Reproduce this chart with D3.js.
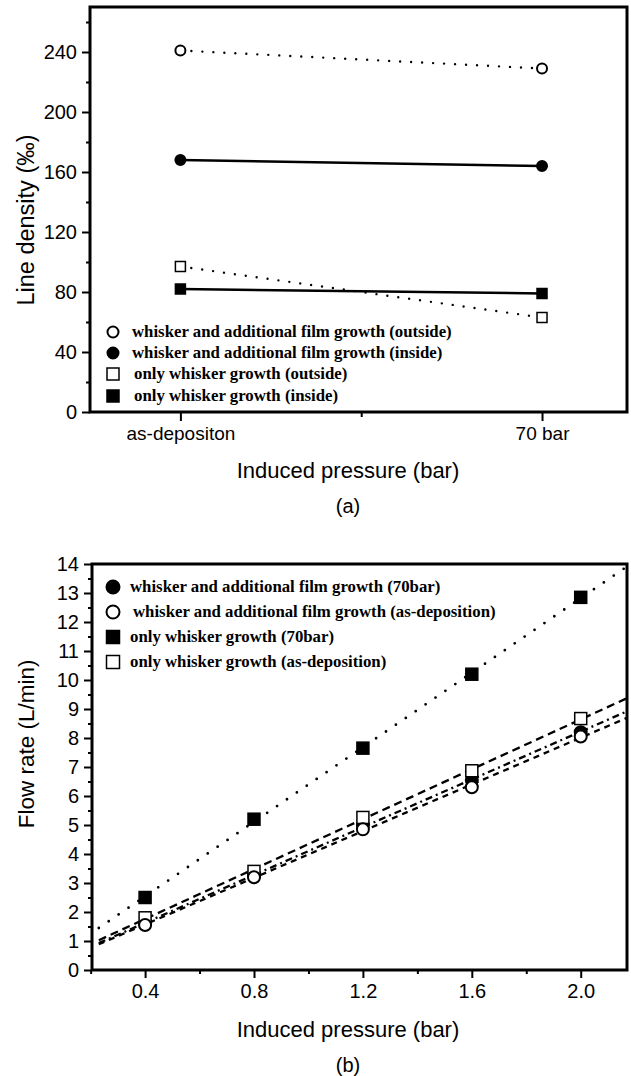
<!DOCTYPE html>
<html>
<head>
<meta charset="utf-8">
<script src="https://cdn.jsdelivr.net/npm/d3@7"></script>
<style>
  body { margin: 0; background: #fff; }
  .tick text { font-family: "Liberation Sans", Arial, sans-serif; }
</style>
</head>
<body>
<script>
// ---- panel (a) data ----
var catsA = ["as-depositon", "70 bar"];
var outsideCircle = [241, 229];   // whisker and additional film growth (outside)
var insideCircle = [168, 164];    // whisker and additional film growth (inside)
var outsideSquare = [97, 63];     // only whisker growth (outside)
var insideSquare = [82, 79];      // only whisker growth (inside)
var ticksA = [0, 40, 80, 120, 160, 200, 240];
var legendA = [
  "whisker and additional film growth (outside)",
  "whisker and additional film growth (inside)",
  "only whisker growth (outside)",
  "only whisker growth (inside)"
];

// ---- panel (b) data ----
var pressures = [0.4, 0.8, 1.2, 1.6, 2.0];
var film70 = [1.6, 3.27, 5.0, 6.55, 8.2];       // filled circle
var filmAsDep = [1.55, 3.2, 4.85, 6.3, 8.05];   // open circle
var whisker70 = [2.5, 5.2, 7.65, 10.2, 12.85];  // filled square
var whiskerAsDep = [1.8, 3.4, 5.26, 6.87, 8.67];// open square
var ticksBx = [0.4, 0.8, 1.2, 1.6, 2.0];
var ticksBy = d3.range(0, 15);
var legendB = [
  "whisker and additional film growth (70bar)",
  "whisker and additional film growth (as-deposition)",
  "only whisker growth (70bar)",
  "only whisker growth (as-deposition)"
];

var W = 631, H = 1076;
var svg = d3.select("body").append("svg")
  .attr("width", W)
  .attr("height", H);

var sans = "'Liberation Sans', Arial, sans-serif";
var serif = "'Liberation Serif', 'Times New Roman', serif";

// draw a marker: shape circle/square, filled or not
function marker(g, shape, filled, x, y, size) {
  if (shape === "circle") {
    g.append("circle")
      .attr("cx", x).attr("cy", y).attr("r", size / 2)
      .attr("fill", filled ? "#000" : "#fff")
      .attr("stroke", "#000").attr("stroke-width", 2);
  } else {
    g.append("rect")
      .attr("x", x - size / 2).attr("y", y - size / 2)
      .attr("width", size).attr("height", size)
      .attr("fill", filled ? "#000" : "#fff")
      .attr("stroke", "#000").attr("stroke-width", 1.5);
  }
}

function styleAxis(g) {
  g.select(".domain").remove();
  g.selectAll(".tick line").attr("stroke", "#000").attr("stroke-width", 2);
}

// linear regression for the fitted lines in (b)
function fit(xs, ys) {
  var mx = d3.mean(xs), my = d3.mean(ys);
  var sxy = d3.sum(xs, (x, i) => (x - mx) * (ys[i] - my));
  var sxx = d3.sum(xs, x => (x - mx) * (x - mx));
  var k = sxy / sxx;
  return { k: k, b: my - k * mx };
}

// ================= panel (a) =================
var ax = d3.scaleLinear().domain([-0.25, 1.235]).range([90, 627]);
var ay = d3.scaleLinear().domain([0, 270]).range([412, 7]);
var ga = svg.append("g");

// minor/major y ticks
var yA = ga.append("g").attr("transform", "translate(90,0)")
  .call(d3.axisLeft(ay).tickValues(d3.range(20, 270, 40)).tickSize(4).tickFormat(""));
styleAxis(yA);
var yA2 = ga.append("g").attr("transform", "translate(90,0)")
  .call(d3.axisLeft(ay).tickValues(ticksA).tickSize(8).tickPadding(5));
styleAxis(yA2);
yA2.selectAll("text").style("font-size", "20px");

var xA = ga.append("g").attr("transform", "translate(0,412)")
  .call(d3.axisBottom(ax).tickValues([0, 0.5, 1]).tickSize(9).tickPadding(6)
    .tickFormat(d => d === 0 ? catsA[0] : d === 1 ? catsA[1] : ""));
styleAxis(xA);
xA.selectAll(".tick").filter(d => d === 0.5).select("line").attr("y2", 5);
xA.selectAll("text").style("font-size", "19px");

ga.append("rect")
  .attr("x", ax.range()[0]).attr("y", ay.range()[1])
  .attr("width", ax.range()[1] - ax.range()[0])
  .attr("height", ay.range()[0] - ay.range()[1])
  .attr("fill", "none").attr("stroke", "#000").attr("stroke-width", 3);

var seriesA = [
  { v: outsideCircle, shape: "circle", filled: false, dash: "0,11", w: 2.4 },
  { v: insideCircle, shape: "circle", filled: true, dash: null, w: 2.5 },
  { v: outsideSquare, shape: "square", filled: false, dash: "0,11", w: 2.4 },
  { v: insideSquare, shape: "square", filled: true, dash: null, w: 2.5 }
];
var lineA = d3.line().x((d, i) => ax(i)).y(d => ay(d));
seriesA.forEach(function(s) {
  ga.append("path")
    .attr("d", lineA(s.v))
    .attr("fill", "none").attr("stroke", "#000")
    .attr("stroke-width", s.w)
    .attr("stroke-linecap", "round")
    .attr("stroke-dasharray", s.dash);
});
seriesA.forEach(function(s) {
  s.v.forEach((d, i) => marker(ga, s.shape, s.filled, ax(i), ay(d), 10));
});

// legend (a)
var legYA = [332, 353, 374, 396];
seriesA.forEach(function(s, i) {
  marker(ga, s.shape, s.filled, 113, legYA[i], s.shape === "circle" ? 11 : 12);
  ga.append("text")
    .attr("x", i < 2 ? 132 : 134).attr("y", legYA[i] + 5)
    .attr("font-family", serif).attr("font-weight", "bold")
    .attr("font-size", "16.8px")
    .text(legendA[i]);
});

ga.append("text")
  .attr("transform", "translate(34," + ay(128) + ") rotate(-90)")
  .attr("text-anchor", "middle")
  .attr("font-family", sans).attr("font-size", "23.5px")
  .text("Line density (‰)");
ga.append("text")
  .attr("x", 348).attr("y", 478)
  .attr("text-anchor", "middle")
  .attr("font-family", sans).attr("font-size", "22px")
  .text("Induced pressure (bar)");
ga.append("text")
  .attr("x", 348).attr("y", 513)
  .attr("text-anchor", "middle")
  .attr("font-family", sans).attr("font-size", "20px")
  .text("(a)");

// ================= panel (b) =================
var bx = d3.scaleLinear().domain([0.205, 2.17]).range([92, 627]);
var by = d3.scaleLinear().domain([0, 14]).range([970, 564]);
var gb = svg.append("g");

var yB = gb.append("g").attr("transform", "translate(92,0)")
  .call(d3.axisLeft(by).tickValues(d3.range(0.5, 14, 1)).tickSize(4).tickFormat(""));
styleAxis(yB);
var yB2 = gb.append("g").attr("transform", "translate(92,0)")
  .call(d3.axisLeft(by).tickValues(ticksBy).tickSize(8).tickPadding(5));
styleAxis(yB2);
yB2.selectAll("text").style("font-size", "20px");

var xB = gb.append("g").attr("transform", "translate(0,970)")
  .call(d3.axisBottom(bx).tickValues([0.2, 0.6, 1.0, 1.4, 1.8]).tickSize(4).tickFormat(""));
styleAxis(xB);
var xB2 = gb.append("g").attr("transform", "translate(0,970)")
  .call(d3.axisBottom(bx).tickValues(ticksBx).tickSize(8).tickPadding(6).tickFormat(d3.format(".1f")));
styleAxis(xB2);
xB2.selectAll("text").style("font-size", "20px");

gb.append("rect")
  .attr("x", bx.range()[0]).attr("y", by.range()[1])
  .attr("width", bx.range()[1] - bx.range()[0])
  .attr("height", by.range()[0] - by.range()[1])
  .attr("fill", "none").attr("stroke", "#000").attr("stroke-width", 3);

var seriesB = [
  { v: film70, shape: "circle", filled: true, dash: "7,4,2,4", w: 2.3 },
  { v: filmAsDep, shape: "circle", filled: false, dash: "6,5", w: 2.3 },
  { v: whisker70, shape: "square", filled: true, dash: "0,12", w: 2.8, cap: "round" },
  { v: whiskerAsDep, shape: "square", filled: false, dash: "8,5", w: 2.3 }
];

gb.append("clipPath").attr("id", "clipB").append("rect")
  .attr("x", 92).attr("y", 564).attr("width", 535).attr("height", 406);
var x0 = 0.23, x1 = 2.17;
var lineB = d3.line().x(d => bx(d[0])).y(d => by(d[1]));
seriesB.forEach(function(s) {
  var f = fit(pressures, s.v);
  gb.append("path")
    .attr("clip-path", "url(#clipB)")
    .attr("d", lineB([[x0, f.b + f.k * x0], [x1, f.b + f.k * x1]]))
    .attr("fill", "none").attr("stroke", "#000")
    .attr("stroke-width", s.w)
    .attr("stroke-linecap", s.cap || "butt")
    .attr("stroke-dasharray", s.dash);
});
// draw points (open markers after filled so they overlap like the original)
[2, 0, 3, 1].forEach(function(j) {
  var s = seriesB[j];
  s.v.forEach((d, i) => marker(gb, s.shape, s.filled, bx(pressures[i]), by(d), 12));
});

var legYB = [587, 612, 637, 662];
seriesB.forEach(function(s, i) {
  marker(gb, s.shape, s.filled, 113, legYB[i], 13);
  gb.append("text")
    .attr("x", i === 1 ? 133 : 130).attr("y", legYB[i] + 5)
    .attr("font-family", serif).attr("font-weight", "bold")
    .attr("font-size", "16.8px")
    .text(legendB[i]);
});

gb.append("text")
  .attr("transform", "translate(34," + by(7.8) + ") rotate(-90)")
  .attr("text-anchor", "middle")
  .attr("font-family", sans).attr("font-size", "22.5px")
  .text("Flow rate (L/min)");
gb.append("text")
  .attr("x", 348).attr("y", 1037)
  .attr("text-anchor", "middle")
  .attr("font-family", sans).attr("font-size", "22px")
  .text("Induced pressure (bar)");
gb.append("text")
  .attr("x", 348).attr("y", 1072)
  .attr("text-anchor", "middle")
  .attr("font-family", sans).attr("font-size", "20px")
  .text("(b)");
</script>
</body>
</html>
